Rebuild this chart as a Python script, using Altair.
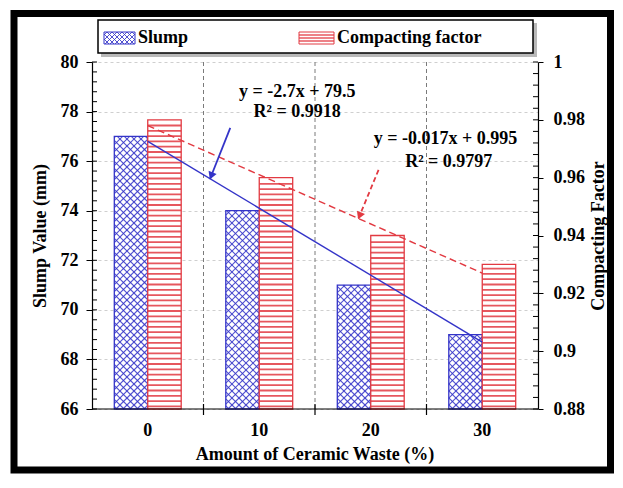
import math
import altair as alt
import numpy as np
import pandas as pd

# ---------------- data ----------------
categories = [0, 10, 20, 30]               # Amount of ceramic waste (%)
slump = [77, 74, 71, 69]                   # Slump value (mm)
compacting = [0.98, 0.96, 0.94, 0.93]      # Compacting factor

x_title = "Amount of  Ceramic Waste (%)"
slump_eq = ["y = -2.7x + 79.5", "R² = 0.9918"]
cf_eq = ["y = -0.017x + 0.995", "R² = 0.9797"]
legend_labels = ["Slump", "Compacting factor"]

# annotation anchors (x in % units, y in axis units)
slump_eq_x = [13.4, 13.4]
slump_eq_y = [78.8, 78.0]
cf_eq_x = [26.7, 27.0]
cf_eq_y = [0.9734, 0.9654]
slump_arrow_x = [7.4, 5.6]
slump_arrow_y = [77.34, 75.3]
cf_arrow_x = [20.7, 18.9]
cf_arrow_y = [0.9627, 0.9459]

# ---------------- layout / style ----------------
W, H = 446, 347
X_DOM = [-5, 35]
S_DOM = [66, 80]
C_DOM = [0.88, 1.0]
BAR_W = 3.0
FONT = "Liberation Serif"
BLUE = "#3434c8"
RED = "#e23a42"


def xpx(v):
    return (v - X_DOM[0]) / (X_DOM[1] - X_DOM[0]) * W


def xinv(p):
    return X_DOM[0] + p / W * (X_DOM[1] - X_DOM[0])


def ypx(v, dom):
    return (dom[1] - v) / (dom[1] - dom[0]) * H


def yinv(p, dom):
    return dom[1] - p / H * (dom[1] - dom[0])


def crosshatch(x0, x1, y0, y1, s):
    segs = []
    for k in range(int(math.floor((x0 - y1) / s)), int(math.ceil((x1 - y0) / s)) + 1):
        c = k * s
        xa, xb = max(x0, y0 + c), min(x1, y1 + c)
        if xb - xa > 0.3:
            segs.append((xa, xa - c, xb, xb - c))
    for k in range(int(math.floor((x0 + y0) / s)), int(math.ceil((x1 + y1) / s)) + 1):
        c = k * s
        xa, xb = max(x0, c - y1), min(x1, c - y0)
        if xb - xa > 0.3:
            segs.append((xa, c - xa, xb, c - xb))
    return segs


def seg_df(segs, dom):
    return pd.DataFrame([{"x1": xinv(a), "y1": yinv(b, dom), "x2": xinv(c), "y2": yinv(d, dom)}
                         for (a, b, c, d) in segs])


bars = pd.DataFrame({"waste": categories, "slump": slump, "cf": compacting})
bars["bx0"] = bars["waste"] - BAR_W
bars["rx1"] = bars["waste"] + BAR_W
bars["s_base"] = S_DOM[0]
bars["c_base"] = C_DOM[0]
bars["label"] = [str(c) for c in categories]

# category boundaries (between neighbouring groups)
bounds = pd.DataFrame({"b": [(a + b) / 2 for a, b in zip(categories[:-1], categories[1:])]})
bounds["lo"] = S_DOM[0]
bounds["hi"] = S_DOM[1]

# cross-hatch for slump bars (built from bar values through the pixel mapping)
segs = []
for w, v in zip(categories, slump):
    segs += crosshatch(xpx(w - BAR_W), xpx(w), ypx(v, S_DOM), H, 7.0)
hatch = seg_df(segs, S_DOM)

# horizontal stripes for compacting-factor bars
srows = []
for w, v in zip(categories, compacting):
    top = ypx(v, C_DOM)
    p = H - 2.6
    while p > top + 1.5:
        srows.append({"x1": w, "x2": w + BAR_W, "y": yinv(p, C_DOM)})
        p -= 5.3
stripes = pd.DataFrame(srows)

left_ticks = pd.DataFrame({"v": np.round(np.arange(S_DOM[0], S_DOM[1] + 0.01, 0.4), 3)})
right_ticks = pd.DataFrame({"v": np.round(np.arange(C_DOM[0], C_DOM[1] + 0.0001, 0.004), 4)})

one = pd.DataFrame({"k": [0]})


def XQ(f):
    return alt.X(f, type="quantitative", scale=alt.Scale(domain=X_DOM, nice=False, zero=False), axis=None)


def YS(f, axis=None):
    return alt.Y(f, type="quantitative", scale=alt.Scale(domain=S_DOM, nice=False, zero=False), axis=axis)


def YC(f, axis=None):
    return alt.Y(f, type="quantitative", scale=alt.Scale(domain=C_DOM, nice=False, zero=False), axis=axis)


left_axis = alt.Axis(
    values=list(range(66, 81, 2)),
    grid=True,
    gridDash=[3, 3],
    gridColor="#cfcfcf",
    tickSize=6,
    labelPadding=8,
    title="Slump Value (mm)",
    titleAngle=270,
    titleX=-52,
    titleY=H / 2,
    titleAlign="center",
    titleBaseline="middle",
    orient="left",
)
right_axis = alt.Axis(
    values=[0.88, 0.90, 0.92, 0.94, 0.96, 0.98, 1.0],
    format="~g",
    grid=False,
    tickSize=5,
    labelPadding=10,
    title="Compacting Factor",
    titleAngle=270,
    titleX=60,
    titleY=H / 2,
    titleAlign="center",
    titleBaseline="middle",
    orient="right",
)

# ---- vertical dashed grid at group boundaries + bottom axis pieces ----
vgrid = alt.Chart(bounds).mark_rule(color="#7a7a7a", strokeWidth=1, strokeDash=[4, 3]).encode(
    x=XQ("b"), y=YS("lo"), y2="hi:Q")
vticks = alt.Chart(bounds).mark_rule(color="black", strokeWidth=1.2).encode(
    x=XQ("b"), y=alt.value(H - 5), y2=alt.value(H + 6))
xdomain = alt.Chart(one).mark_rule(color="black", strokeWidth=1.2).encode(
    x=alt.value(0), x2=alt.value(W), y=alt.value(H))
xlabels = alt.Chart(bars).mark_text(font=FONT, fontWeight="bold", fontSize=18, color="black",
                                    align="center", baseline="middle").encode(
    x=XQ("waste"), y=alt.value(H + 22), text="label:N")
xtitle = alt.Chart(pd.DataFrame({"t": [x_title]})).mark_text(
    font=FONT, fontWeight="bold", fontSize=18, color="black", align="center", baseline="middle").encode(
    x=alt.value(W / 2), y=alt.value(H + 46), text="t:N")

# ---- bars ----
blue_fill = alt.Chart(bars).mark_rect(fill="white").encode(
    x=XQ("bx0"), x2="waste:Q", y=YS("slump", left_axis), y2="s_base:Q")
blue_hatch = alt.Chart(hatch).mark_rule(color=BLUE, strokeWidth=1.1, opacity=0.85).encode(
    x=XQ("x1"), x2="x2:Q", y=YS("y1"), y2="y2:Q")
blue_outline = alt.Chart(bars).mark_rect(fill="white", fillOpacity=0, stroke=BLUE, strokeWidth=1.3).encode(
    x=XQ("bx0"), x2="waste:Q", y=YS("slump"), y2="s_base:Q")

red_fill = alt.Chart(bars).mark_rect(fill="white").encode(
    x=XQ("waste"), x2="rx1:Q", y=YC("cf", right_axis), y2="c_base:Q")
red_stripes = alt.Chart(stripes).mark_rule(color=RED, strokeWidth=1.8, opacity=0.85).encode(
    x=XQ("x1"), x2="x2:Q", y=YC("y"))
red_outline = alt.Chart(bars).mark_rect(fill="white", fillOpacity=0, stroke=RED, strokeWidth=1.3).encode(
    x=XQ("waste"), x2="rx1:Q", y=YC("cf"), y2="c_base:Q")

# ---- inner minor ticks ----
lt = alt.Chart(left_ticks).mark_rule(color="black", strokeWidth=1).encode(
    y=YS("v"), x=alt.value(0), x2=alt.value(5))
rt = alt.Chart(right_ticks).mark_rule(color="black", strokeWidth=1).encode(
    y=YC("v"), x=alt.value(W - 5), x2=alt.value(W))

# ---- trend lines (library regression) ----
blue_trend = alt.Chart(bars).transform_regression("waste", "slump", extent=[0, 30]).mark_line(
    color=BLUE, strokeWidth=1.4).encode(x=XQ("waste"), y=YS("slump"))
red_trend = alt.Chart(bars).transform_regression("waste", "cf", extent=[0, 30]).mark_line(
    color=RED, strokeWidth=1.4, strokeDash=[7, 4]).encode(x=XQ("waste"), y=YC("cf"))


def arrow(ax, ay, dom, color, dash, yfun):
    p0 = (xpx(ax[0]), ypx(ay[0], dom))
    p1 = (xpx(ax[1]), ypx(ay[1], dom))
    dx, dy = p1[0] - p0[0], p1[1] - p0[1]
    L = math.hypot(dx, dy)
    ang = math.degrees(math.atan2(dx, -dy)) % 360
    hc = (p1[0] - dx / L * 4, p1[1] - dy / L * 4)
    ld = pd.DataFrame({"x": ax, "y": ay, "o": [0, 1]})
    hd = pd.DataFrame({"x": [xinv(hc[0])], "y": [yinv(hc[1], dom)]})
    kw = dict(color=color, strokeWidth=1.8)
    if dash:
        kw["strokeDash"] = dash
    line = alt.Chart(ld).mark_line(**kw).encode(x=XQ("x"), y=yfun("y"), order="o:Q")
    head = alt.Chart(hd).mark_point(shape="triangle", filled=True, size=75, angle=ang,
                                    color=color, opacity=1).encode(x=XQ("x"), y=yfun("y"))
    return line, head


ba_line, ba_head = arrow(slump_arrow_x, slump_arrow_y, S_DOM, BLUE, None, YS)
ra_line, ra_head = arrow(cf_arrow_x, cf_arrow_y, C_DOM, RED, [5, 3], YC)

txt_kw = dict(font=FONT, fontWeight="bold", fontSize=18, color="black", align="center", baseline="middle")
blue_txt = alt.Chart(pd.DataFrame({"x": slump_eq_x, "y": slump_eq_y, "t": slump_eq})).mark_text(**txt_kw).encode(
    x=XQ("x"), y=YS("y"), text="t:N")
red_txt = alt.Chart(pd.DataFrame({"x": cf_eq_x, "y": cf_eq_y, "t": cf_eq})).mark_text(**txt_kw).encode(
    x=XQ("x"), y=YC("y"), text="t:N")

# ---- legend (drawn above the plot) ----
leg_shadow = alt.Chart(one).mark_rect(fill="#8a8a8a", opacity=0.6).encode(
    x=alt.value(9), x2=alt.value(445), y=alt.value(-39), y2=alt.value(-5))
leg_box = alt.Chart(one).mark_rect(fill="white", stroke="black", strokeWidth=1.5).encode(
    x=alt.value(6), x2=alt.value(441), y=alt.value(-42), y2=alt.value(-9))
sw1 = alt.Chart(one).mark_rect(fill="white", stroke=BLUE, strokeWidth=1).encode(
    x=alt.value(12), x2=alt.value(43), y=alt.value(-30), y2=alt.value(-18))
sw1_hatch = alt.Chart(seg_df(crosshatch(12, 43, -30, -18, 5.0), S_DOM)).mark_rule(
    color=BLUE, strokeWidth=1, opacity=0.85).encode(
    x=XQ("x1"), x2="x2:Q", y=YS("y1"), y2="y2:Q")
sw2 = alt.Chart(one).mark_rect(fill="white", stroke=RED, strokeWidth=1).encode(
    x=alt.value(207), x2=alt.value(242), y=alt.value(-30), y2=alt.value(-18))
sw2_s = pd.DataFrame({"x1": [xinv(207)] * 3, "x2": [xinv(242)] * 3,
                      "y": [yinv(p, C_DOM) for p in (-27, -24, -21)]})
sw2_stripes = alt.Chart(sw2_s).mark_rule(color=RED, strokeWidth=1.6, opacity=0.85).encode(
    x=XQ("x1"), x2="x2:Q", y=YC("y"))
leg_txt = alt.Chart(pd.DataFrame({"x": [xinv(46), xinv(245)], "y": [yinv(-24, S_DOM)] * 2,
                                  "t": legend_labels})).mark_text(
    font=FONT, fontWeight="bold", fontSize=18, color="black", align="left", baseline="middle").encode(
    x=XQ("x"), y=YS("y"), text="t:N")

# ---- outer frame ----
frame = alt.Chart(one).mark_rect(fill="white", fillOpacity=0, stroke="black", strokeWidth=7).encode(
    x=alt.value(-78), x2=alt.value(518.5), y=alt.value(-48.5), y2=alt.value(408))

chart = alt.layer(
    vgrid,
    blue_fill, blue_hatch, blue_outline,
    red_fill, red_stripes, red_outline,
    lt, rt, vticks, xdomain, xlabels, xtitle,
    blue_trend, red_trend,
    ba_line, ba_head, ra_line, ra_head,
    blue_txt, red_txt,
    leg_shadow, leg_box, sw1, sw1_hatch, sw2, sw2_stripes, leg_txt,
    frame,
).resolve_scale(y="independent").properties(
    width=W, height=H,
    autosize=alt.AutoSizeParams(type="none"),
    padding={"left": 84, "top": 54, "right": 76, "bottom": 65},
).configure(background="white").configure_view(strokeWidth=0).configure_axis(
    domainColor="black", domainWidth=1.2, tickColor="black", labelColor="black",
    labelFont=FONT, labelFontWeight="bold", labelFontSize=18,
    titleFont=FONT, titleFontWeight="bold", titleFontSize=18, titleColor="black",
)

chart.save("out.html", embed_options={"renderer": "svg", "actions": False})
